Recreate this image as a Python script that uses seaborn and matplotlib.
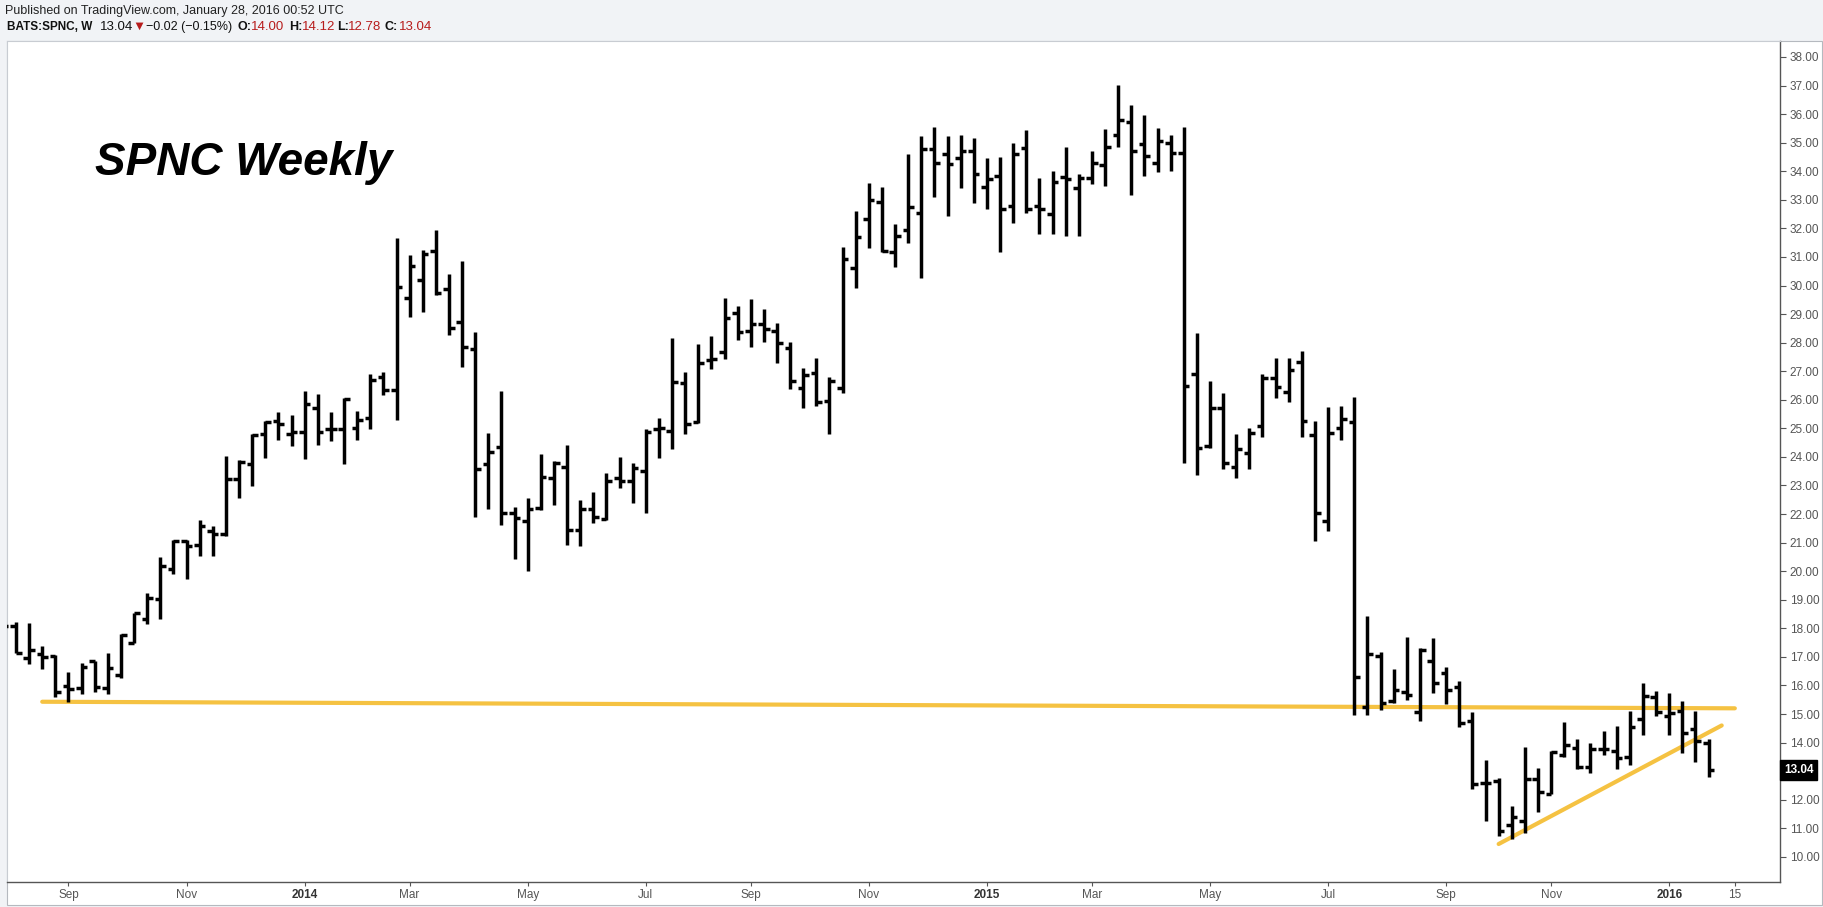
import numpy as np
import pandas as pd
import matplotlib
matplotlib.use("Agg")
import matplotlib.pyplot as plt
import matplotlib.dates as mdates
import matplotlib.transforms as mtransforms
from matplotlib.patches import Rectangle
import seaborn as sns

# weekly bars, first one is the week of 2013-07-29 (partly hidden at the left edge)
first_week = "2013-07-29"

opens = [18.00, 18.09, 16.95, 17.09, 17.03, 15.98, 15.90, 16.85, 15.90, 16.38,
         17.50, 18.31, 19.04, 20.07, 21.05, 20.92, 21.42, 21.30, 23.21, 23.76,
         24.82, 25.25, 24.79, 24.89, 25.70, 24.97, 24.97, 25.03, 25.38, 26.81,
         26.34, 29.55, 30.20, 31.21, 29.87, 28.74, 27.77, 23.74, 24.36, 22.03,
         21.77, 22.20, 23.25, 23.66, 21.45, 22.17, 21.83, 23.25, 23.14, 23.49,
         24.97, 24.92, 26.58, 25.24, 27.40, 27.66, 29.05, 28.42, 28.66, 28.42,
         27.83, 26.40, 26.93, 25.96, 26.43, 30.63, 32.33, 32.94, 31.19, 31.95,
         32.55, 34.77, 34.59, 34.48, 34.72, 33.44, 33.85, 32.80, 34.80, 32.80,
         32.49, 33.79, 33.43, 33.75, 34.22, 35.27, 35.74, 34.94, 34.28, 35.00,
         34.65, 26.89, 24.40, 25.70, 23.66, 24.15, 25.10, 26.78, 26.26, 27.34,
         24.77, 21.77, 25.00, 25.21, 15.24, 17.03, 15.44, 15.76, 15.06, 16.87,
         16.45, 15.96, 14.77, 12.58, 12.66, 11.10, 11.24, 12.72, 12.20, 13.55,
         13.80, 13.14, 13.78, 13.72, 13.49, 14.82, 15.58, 14.93, 15.12, 14.47,
         14.00]
highs = [18.25, 18.23, 18.17, 17.39, 17.05, 16.46, 16.77, 16.87, 17.12, 17.80,
         18.55, 19.22, 20.51, 21.09, 21.09, 21.79, 21.59, 24.03, 23.89, 24.82,
         25.27, 25.58, 25.47, 26.30, 26.19, 25.59, 26.08, 25.62, 26.89, 26.99,
         31.65, 31.07, 31.25, 31.95, 30.39, 30.86, 28.37, 24.83, 26.31, 22.24,
         22.55, 24.09, 23.87, 24.42, 22.50, 22.76, 23.43, 23.99, 23.78, 24.97,
         25.35, 28.15, 26.99, 27.94, 28.22, 29.55, 29.30, 29.52, 29.17, 28.68,
         28.04, 27.10, 27.45, 26.81, 31.34, 32.61, 33.58, 33.44, 32.14, 34.59,
         35.24, 35.56, 35.24, 35.27, 35.15, 34.45, 34.49, 34.98, 35.45, 33.75,
         34.01, 34.84, 33.89, 34.71, 35.47, 37.02, 36.32, 35.97, 35.50, 35.27,
         35.54, 28.33, 26.66, 26.23, 24.80, 25.00, 26.89, 27.45, 27.45, 27.71,
         25.27, 25.76, 25.79, 26.09, 18.44, 17.16, 16.57, 17.69, 17.30, 17.65,
         16.66, 16.16, 15.08, 13.39, 12.75, 11.78, 13.84, 13.10, 13.72, 14.71,
         14.12, 13.98, 14.42, 14.58, 15.11, 16.08, 15.82, 15.73, 15.47, 15.11,
         14.12]
lows = [17.95, 17.12, 16.75, 16.56, 15.58, 15.43, 15.70, 15.78, 15.70, 16.27,
        17.50, 18.14, 18.31, 19.89, 19.71, 20.54, 20.54, 21.24, 22.55, 22.99,
        23.97, 24.61, 24.38, 23.93, 24.42, 24.56, 23.75, 24.60, 24.97, 26.17,
        25.30, 28.89, 29.09, 29.67, 28.26, 27.14, 21.91, 22.17, 21.60, 20.42,
        19.99, 22.15, 22.32, 20.90, 20.88, 21.68, 21.80, 22.90, 22.38, 22.03,
        23.95, 24.27, 24.81, 25.20, 27.07, 27.42, 28.10, 27.84, 28.04, 27.28,
        26.37, 25.73, 25.79, 24.79, 26.23, 29.90, 31.30, 31.19, 30.66, 31.50,
        30.28, 33.11, 32.45, 33.43, 32.90, 32.69, 31.19, 32.20, 32.55, 31.79,
        31.79, 31.75, 31.75, 33.54, 33.50, 34.86, 33.17, 33.83, 33.99, 34.02,
        23.79, 23.37, 24.30, 23.57, 23.25, 23.57, 24.69, 26.05, 25.91, 24.71,
        21.06, 21.41, 24.59, 14.97, 14.97, 15.15, 15.40, 15.50, 14.74, 15.73,
        15.35, 14.56, 12.38, 11.27, 10.73, 10.62, 10.83, 11.56, 12.20, 13.51,
        13.07, 12.93, 13.57, 13.07, 13.22, 14.27, 14.93, 14.27, 13.63, 13.31,
        12.78]
closes = [18.09, 17.12, 17.24, 16.98, 15.78, 15.86, 16.66, 15.93, 16.60, 17.77,
          18.52, 19.06, 20.18, 21.04, 20.88, 21.59, 21.30, 23.24, 23.82, 24.77,
          25.24, 25.17, 24.88, 25.87, 24.89, 24.97, 26.02, 25.30, 26.70, 26.34,
          29.96, 30.70, 31.09, 29.73, 28.50, 27.86, 23.57, 24.19, 22.03, 21.85,
          22.17, 23.28, 23.78, 21.45, 22.17, 21.88, 23.14, 23.16, 23.60, 24.89,
          25.00, 26.61, 25.16, 27.30, 27.42, 28.85, 28.36, 28.66, 28.48, 28.00,
          26.67, 26.87, 25.91, 26.67, 30.93, 31.71, 32.99, 31.22, 31.74, 32.76,
          34.78, 34.30, 34.26, 34.72, 33.89, 33.73, 32.67, 34.59, 32.67, 32.68,
          33.64, 33.73, 33.75, 34.28, 34.86, 35.80, 34.72, 34.54, 35.07, 34.65,
          26.48, 24.30, 25.70, 23.78, 24.27, 24.83, 26.78, 26.46, 27.05, 25.27,
          22.03, 24.85, 25.33, 16.31, 17.10, 15.40, 15.85, 15.65, 17.24, 16.10,
          15.84, 14.70, 12.55, 12.58, 10.92, 11.39, 12.72, 12.26, 13.66, 13.92,
          13.16, 13.77, 13.78, 13.45, 14.54, 15.64, 15.06, 15.05, 14.35, 14.04,
          13.04]

# drawn trend lines (yellow)
support_dates = ["2013-08-19", "2016-02-08"]
support_prices = [15.43, 15.20]
trend_dates = ["2015-10-05", "2016-02-01"]
trend_prices = [10.45, 14.60]

tick_dates = ["2013-09-02", "2013-11-04", "2014-01-06", "2014-03-03", "2014-05-05",
              "2014-07-07", "2014-09-01", "2014-11-03", "2015-01-05", "2015-03-02",
              "2015-05-04", "2015-07-06", "2015-09-07", "2015-11-02", "2016-01-04",
              "2016-02-08"]
tick_labels = ["Sep", "Nov", "2014", "Mar", "May", "Jul", "Sep", "Nov", "2015", "Mar",
               "May", "Jul", "Sep", "Nov", "2016", "15"]
price_ticks = [10, 11, 12, 14, 15, 16, 17, 18, 19, 20, 21, 22, 23, 24, 25, 26, 27, 28,
               29, 30, 31, 32, 33, 34, 35, 36, 37, 38]
last_price = 13.04

W, H = 1824, 907
sns.set_theme(style="white")
plt.rcParams["font.family"] = ["Liberation Sans", "DejaVu Sans"]

dates = pd.date_range(first_week, periods=len(opens), freq="7D")
x = mdates.date2num(dates.to_pydatetime())
o = np.array(opens)
h = np.array(highs)
l = np.array(lows)
c = np.array(closes)

fig = plt.figure(figsize=(W / 100, H / 100), dpi=100, facecolor="#f1f3f6")
fig.patches.append(Rectangle((7 / W, 1 - 905 / H), (1822 - 7) / W, (905 - 41) / H,
                             transform=fig.transFigure, facecolor="white",
                             edgecolor="#b5b9bf", linewidth=0.8, zorder=-10))
ax = fig.add_axes([7 / W, 1 - 882 / H, 1773 / W, 841 / H])
ax.set_zorder(1)
ax.set_facecolor("white")

# OHLC bars
bar_lw = 2.5
tick_len = 3.0  # days
vl = ax.vlines(x, l, h, colors="black", linewidth=bar_lw, zorder=3)
ol = ax.hlines(o, x - tick_len, x, colors="black", linewidth=bar_lw, zorder=3)
cl = ax.hlines(c, x, x + tick_len, colors="black", linewidth=bar_lw, zorder=3)
for coll in (vl, ol, cl):
    coll.set_capstyle("butt")

# yellow lines
sns.lineplot(x=mdates.date2num(pd.to_datetime(support_dates).to_pydatetime()), y=support_prices,
             ax=ax, color="#f5c242", linewidth=3.0, zorder=2)
sns.lineplot(x=mdates.date2num(pd.to_datetime(trend_dates).to_pydatetime()), y=trend_prices,
             ax=ax, color="#f5c242", linewidth=3.0, zorder=2)

ax.set_xlim(x[1] - 4.8, x[-1] + 38.1)
ax.set_ylim(9.12, 38.56)

ax.yaxis.tick_right()
ax.set_yticks(price_ticks)
ax.set_yticklabels([f"{v:.2f}" for v in price_ticks])
ax.set_xticks(mdates.date2num(pd.to_datetime(tick_dates).to_pydatetime()))
ax.set_xticklabels(tick_labels)
ax.tick_params(axis="y", right=True, left=False, length=4, width=0.8, color="#555555",
               labelsize=8.5, labelcolor="#555555", pad=3)
ax.tick_params(axis="x", bottom=True, length=3, width=0.8, color="#555555",
               labelsize=8.5, labelcolor="#555555", pad=2)
for lab in ax.get_xticklabels():
    if lab.get_text().isdigit() and len(lab.get_text()) == 4:
        lab.set_fontweight("bold")
        lab.set_color("#333333")
ax.set_xlabel("")
ax.set_ylabel("")
if ax.get_legend():
    ax.get_legend().remove()

for side in ("right", "bottom"):
    ax.spines[side].set_color("#555555")
    ax.spines[side].set_linewidth(1.0)
for side in ("top", "left"):
    ax.spines[side].set_color("#c8ccd2")
    ax.spines[side].set_linewidth(0.8)

# last price marker on the price axis
tr = mtransforms.blended_transform_factory(fig.transFigure, ax.transData)
ax.text(1784 / W, last_price, f"{last_price:.2f}", transform=tr, ha="left", va="center",
        fontsize=8.5, fontweight="bold", color="white", clip_on=False, zorder=5,
        bbox=dict(boxstyle="square,pad=0.3", facecolor="black", edgecolor="black"))

# title inside the chart
fig.text(95 / W, 1 - 175 / H, "SPNC Weekly", fontsize=33, fontweight="bold",
         fontstyle="italic", color="black", ha="left", va="baseline")

# header
fig.text(5 / W, 1 - 11 / H, "Published on TradingView.com, January 28, 2016 00:52 UTC",
         fontsize=9, color="#222222", ha="left", va="center")
red = "#b71c1c"
y2 = 1 - 27 / H
pieces = [(7, "BATS:SPNC, W", "bold", "#111111", 8.5),
          (100, "13.04", "normal", "#111111", 9.5),
          (132, "\u25bc", "normal", red, 9.5),
          (146, "\u22120.02 (\u22120.15%)", "normal", "#111111", 9),
          (238, "O:", "bold", "#111111", 9),
          (251, "14.00", "normal", red, 9.5),
          (289, "H:", "bold", "#111111", 9),
          (302, "14.12", "normal", red, 9.5),
          (337, "L:", "bold", "#111111", 9),
          (348, "12.78", "normal", red, 9.5),
          (385, "C:", "bold", "#111111", 9),
          (399, "13.04", "normal", red, 9.5)]
for px, txt, wt, col, fs in pieces:
    fig.text(px / W, y2, txt, fontsize=fs, fontweight=wt, color=col, ha="left", va="center",
             family=["Liberation Sans", "DejaVu Sans"])

fig.savefig("out.png", dpi=100, facecolor=fig.get_facecolor())
